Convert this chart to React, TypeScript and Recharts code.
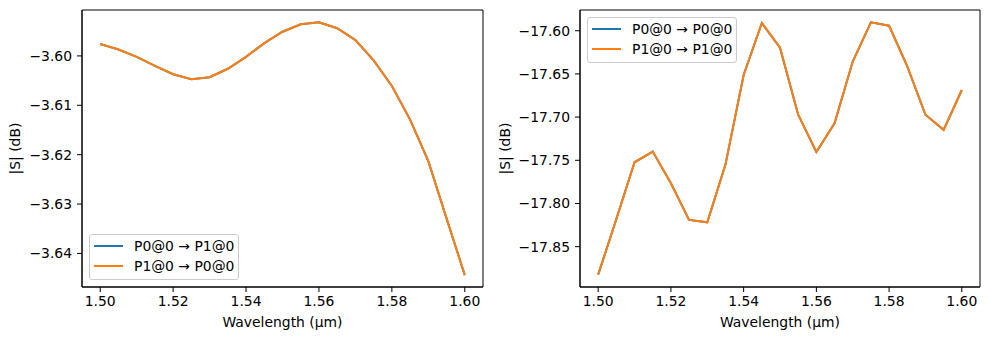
import React from 'react';
import { LineChart, Line, XAxis, YAxis, ReferenceArea } from 'recharts';

const wavelengths = [1.5, 1.505, 1.51, 1.515, 1.52, 1.525, 1.53, 1.535, 1.54, 1.545, 1.55, 1.555, 1.56, 1.565, 1.57, 1.575, 1.58, 1.585, 1.59, 1.595, 1.6];

const s21 = [-3.5976, -3.5987, -3.6002, -3.602, -3.6037, -3.6047, -3.6043, -3.6026, -3.6002, -3.5974, -3.5951, -3.5936, -3.5932, -3.5944, -3.5968, -3.6009, -3.6061, -3.6129, -3.6213, -3.6329, -3.6444];
const s12 = [-3.5976, -3.5987, -3.6002, -3.602, -3.6037, -3.6047, -3.6043, -3.6026, -3.6002, -3.5974, -3.5951, -3.5936, -3.5932, -3.5944, -3.5968, -3.6009, -3.6061, -3.6129, -3.6213, -3.6329, -3.6444];

const s11 = [-17.8824, -17.818, -17.7523, -17.7399, -17.7766, -17.819, -17.8218, -17.755, -17.6512, -17.5911, -17.6197, -17.6973, -17.7404, -17.7072, -17.6357, -17.5903, -17.5942, -17.6412, -17.6973, -17.7147, -17.6686];
const s22 = [-17.8824, -17.818, -17.7523, -17.7399, -17.7766, -17.819, -17.8218, -17.755, -17.6512, -17.5911, -17.6197, -17.6973, -17.7404, -17.7072, -17.6357, -17.5903, -17.5942, -17.6412, -17.6973, -17.7147, -17.6686];

const xTicks = [1.5, 1.52, 1.54, 1.56, 1.58, 1.6];
const leftYTicks = [-3.64, -3.63, -3.62, -3.61, -3.6];
const rightYTicks = [-17.85, -17.8, -17.75, -17.7, -17.65, -17.6];

const leftLabels = ['P0@0 → P1@0', 'P1@0 → P0@0'];
const rightLabels = ['P0@0 → P0@0', 'P1@0 → P1@0'];

const leftData = wavelengths.map((w, i) => ({ wl: w, a: s21[i], b: s12[i] }));
const rightData = wavelengths.map((w, i) => ({ wl: w, a: s11[i], b: s22[i] }));

const BLUE = '#1f77b4';
const ORANGE = '#ff7f0e';
const FONT = '"DejaVu Sans", sans-serif';
const FS = 13.9;
const X_DOMAIN: [number, number] = [1.495, 1.605];

const fmt = (v: number) => v.toFixed(2).replace('-', '\u2212');
const tickStyle = { fill: '#000', fontSize: FS, fontFamily: FONT };

function LegendBox({ labels, left, top }: { labels: string[]; left: number; top: number }) {
  return (
    <div
      style={{
        position: 'absolute',
        left,
        top,
        width: 150,
        height: 46,
        boxSizing: 'border-box',
        border: '1px solid #cccccc',
        borderRadius: 3,
        background: 'rgba(255,255,255,0.8)',
        fontFamily: FONT,
        fontSize: FS,
        color: '#000',
      }}
    >
      {labels.map((l, i) => (
        <React.Fragment key={l}>
          <div
            style={{
              position: 'absolute',
              left: 4,
              top: 9.5 + i * 20.7,
              width: 29,
              height: 2,
              background: i === 0 ? BLUE : ORANGE,
            }}
          />
          <div
            style={{
              position: 'absolute',
              left: 44,
              top: 1.5 + i * 20.7,
              lineHeight: '18px',
              whiteSpace: 'nowrap',
            }}
          >
            {l}
          </div>
        </React.Fragment>
      ))}
    </div>
  );
}

function Panel({
  data,
  yTicks,
  yDomain,
  margin,
  yLabelX,
  width,
}: {
  data: any[];
  yTicks: number[];
  yDomain: [number, number];
  margin: { top: number; right: number; bottom: number; left: number };
  yLabelX: number;
  width: number;
}) {
  return (
    <LineChart width={width} height={340} data={data} margin={margin}>
      <XAxis
        dataKey="wl"
        type="number"
        domain={X_DOMAIN}
        allowDataOverflow
        ticks={xTicks}
        tickFormatter={(v: number) => v.toFixed(2)}
        tick={tickStyle}
        tickSize={5}
        tickMargin={4}
        height={53}
        axisLine={{ stroke: '#000', strokeWidth: 1 }}
        tickLine={{ stroke: '#000', strokeWidth: 1 }}
        label={{
          value: 'Wavelength (μm)',
          position: 'insideBottom',
          offset: 13,
          style: { fill: '#000', fontSize: FS, fontFamily: FONT },
        }}
      />
      <YAxis
        type="number"
        domain={yDomain}
        allowDataOverflow
        ticks={yTicks}
        tickFormatter={fmt}
        tick={tickStyle}
        tickSize={5}
        tickMargin={5}
        width={60}
        axisLine={{ stroke: '#000', strokeWidth: 1 }}
        tickLine={{ stroke: '#000', strokeWidth: 1 }}
        label={{
          content: () => (
            <text
              x={yLabelX}
              y={148.5}
              transform={`rotate(-90 ${yLabelX} 148.5)`}
              textAnchor="middle"
              fill="#000"
              fontSize={FS}
              fontFamily={FONT}
            >
              |S| (dB)
            </text>
          ),
        }}
      />
      <ReferenceArea
        x1={X_DOMAIN[0]}
        x2={X_DOMAIN[1]}
        y1={yDomain[0]}
        y2={yDomain[1]}
        fill="none"
        fillOpacity={0}
        stroke="#000"
        strokeWidth={1}
        ifOverflow="visible"
      />
      <Line type="linear" dataKey="a" stroke={BLUE} strokeWidth={2} dot={false} isAnimationActive={false} />
      <Line type="linear" dataKey="b" stroke={ORANGE} strokeWidth={2} dot={false} isAnimationActive={false} />
    </LineChart>
  );
}

export default function App() {
  return (
    <div style={{ position: 'absolute', left: 0, top: 0, width: 989, height: 340, background: '#fff' }}>
      <div style={{ position: 'absolute', left: 0, top: 0 }}>
        <Panel
          data={leftData}
          yTicks={leftYTicks}
          yDomain={[-3.6468, -3.5907]}
          margin={{ top: 10, right: 12, bottom: 0, left: 22 }}
          yLabelX={20}
          width={495}
        />
      </div>
      <div style={{ position: 'absolute', left: 495, top: 0 }}>
        <Panel
          data={rightData}
          yTicks={rightYTicks}
          yDomain={[-17.8967, -17.576]}
          margin={{ top: 10, right: 9, bottom: 0, left: 25 }}
          yLabelX={15}
          width={494}
        />
      </div>
      <LegendBox labels={leftLabels} left={89} top={234} />
      <LegendBox labels={rightLabels} left={587} top={17} />
    </div>
  );
}
